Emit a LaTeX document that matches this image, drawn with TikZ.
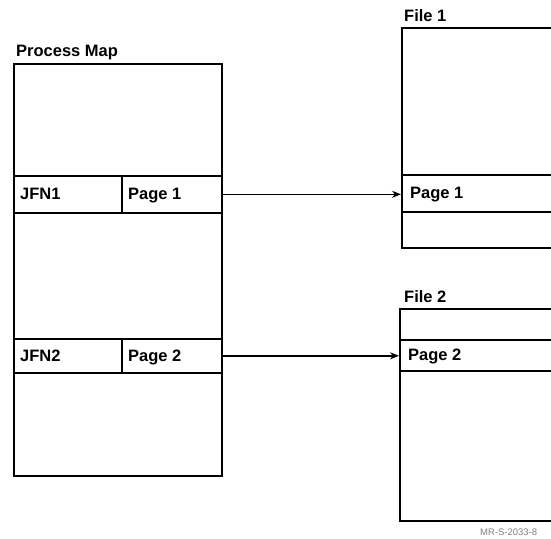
\documentclass[tikz,border=0pt]{standalone}
\usepackage{fontspec}
\setmainfont{Liberation Sans}
\usetikzlibrary{arrows.meta}
\begin{document}
\begin{tikzpicture}[x=1pt,y=-1pt,
  box/.style={draw, line width=1.6pt, inner sep=0pt, anchor=north west},
  lbl/.style={font=\bfseries\fontsize{16.5}{18}\selectfont, anchor=base west, inner sep=0pt},
  link/.style={line width=1.4pt, -{Stealth[length=9pt,width=7pt]}}]
\useasboundingbox (0,0) rectangle (551,538);
% Process map
\node[box, minimum width=208pt, minimum height=412pt] (pm) at (13,63) {};
\node[box, minimum width=108pt, minimum height=37pt] (jfn1) at (13,175) {};
\node[box, minimum width=100pt, minimum height=37pt] (pg1) at (121,175) {};
\node[box, minimum width=108pt, minimum height=34pt] (jfn2) at (13,338) {};
\node[box, minimum width=100pt, minimum height=34pt] (pg2) at (121,338) {};
\node[lbl] (pmt) at (16,56) {Process Map};
\node[lbl] at (20,199) {JFN1};
\node[lbl] at (128,199) {Page 1};
\node[lbl] at (20,361) {JFN2};
\node[lbl] at (128,361) {Page 2};
% File 1
\node[box, minimum width=170pt, minimum height=220pt] (f1) at (401,27) {};
\node[box, minimum width=170pt, minimum height=37pt] (fp1) at (401,174) {};
\node[lbl] at (404,21) {File 1};
\node[lbl] at (410,198) {Page 1};
% File 2
\node[box, minimum width=170pt, minimum height=212pt] (f2) at (399,308) {};
\node[box, minimum width=170pt, minimum height=31pt] (fp2) at (399,339) {};
\node[lbl] at (404,302) {File 2};
\node[lbl] at (408,360) {Page 2};
% Mapping arrows
\draw[link] (pg1.east) -- (pg1.east -| fp1.west);
\draw[link] (pg2.east) -- (pg2.east -| fp2.west);
% Drawing number
\node[anchor=west, inner sep=0pt, text=black!50, font=\fontsize{9.5}{10}\selectfont] at (480,532) {MR-S-2033-8};
\end{tikzpicture}
\end{document}
